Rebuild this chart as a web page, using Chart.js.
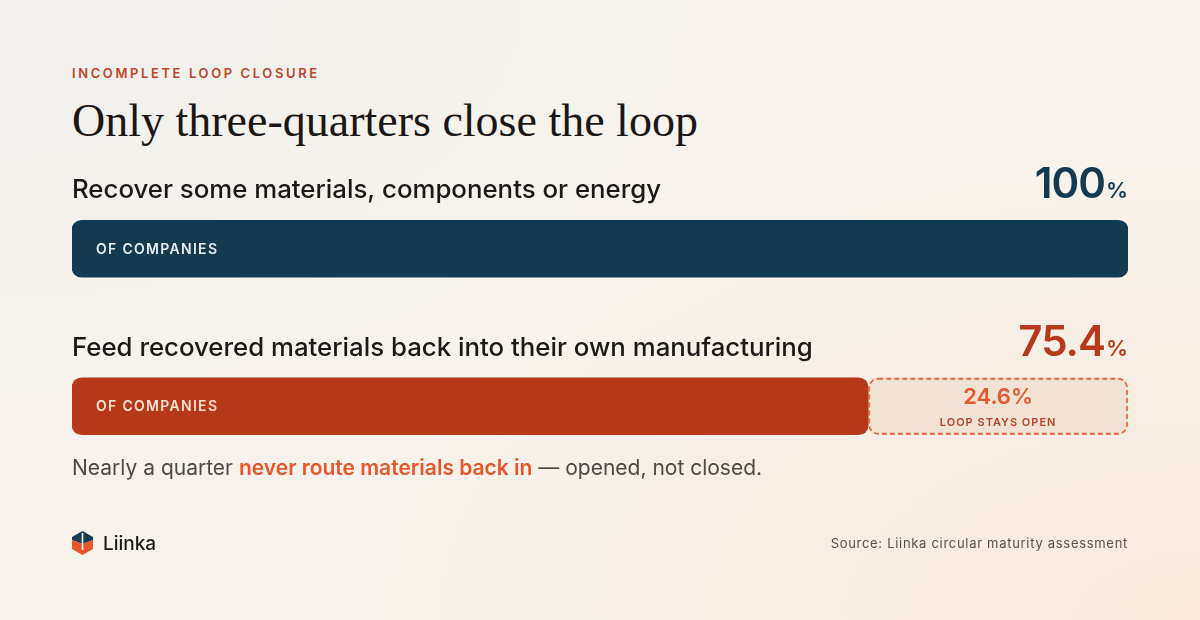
<!DOCTYPE html>
<html>
<head>
<meta charset="utf-8">
<title>Only three-quarters close the loop</title>
<script src="https://cdn.jsdelivr.net/npm/chart.js@4.4.1/dist/chart.umd.min.js"></script>
<style>
    html, body { margin: 0; padding: 0; }
    body {
        width: 1200px; height: 620px; overflow: hidden; position: relative;
        background: radial-gradient(ellipse 900px 500px at 1200px 620px, #f8e9dc 0%, rgba(248,233,220,0) 100%),
                    radial-gradient(ellipse 700px 400px at 0px 0px, #f1f0ed 0%, rgba(241,240,237,0) 100%),
                    #f7f3ec;
        font-family: Inter, "Noto Sans", sans-serif;
    }
    .eyebrow {
        position: absolute; left: 72px; top: 65px;
        font-size: 13px; font-weight: 600; letter-spacing: 2.6px; color: #c0452a;
    }
    .title {
        position: absolute; left: 72px; top: 94px;
        font-family: "Liberation Serif", "DejaVu Serif", serif;
        font-size: 46px; color: #1c1715; white-space: nowrap;
    }
    .note {
        position: absolute; left: 72px; top: 455px;
        font-size: 21px; color: #4e4945; white-space: nowrap;
    }
    .note b { color: #e8562b; font-weight: 600; }
    .brand {
        position: absolute; left: 72px; top: 531px; display: flex; align-items: center;
        font-size: 19px; font-weight: 500; color: #1d1a18;
    }
    .brand svg { margin-right: 10px; }
    .source {
        position: absolute; right: 72px; top: 535px;
        font-size: 13px; color: #57524e; letter-spacing: 0.7px;
    }
    #wrap { position: absolute; left: 0; top: 0; width: 1200px; height: 620px; }
</style>
</head>
<body>

<div class="eyebrow">INCOMPLETE LOOP CLOSURE</div>
<div class="title">Only three-quarters close the loop</div>

<div id="wrap"><canvas id="loopChart"></canvas></div>

<div class="note">Nearly a quarter <b>never route materials back in</b> — opened, not closed.</div>

<div class="brand">
    <svg width="21" height="24" viewBox="0 0 21 24">
        <polygon points="10.5,0 21,6 21,9 10.5,13 0,9 0,6" fill="#163b52"/>
        <polygon points="0,9 10.5,13 21,9 21,18 10.5,24 0,18" fill="#e8562b"/>
        <rect x="9.7" y="2" width="1.6" height="17" fill="#f7f3ec"/>
    </svg>
    Liinka
</div>
<div class="source">Source: Liinka circular maturity assessment</div>

<script>
// data
const categories = [
    "Recover some materials, components or energy",
    "Feed recovered materials back into their own manufacturing"
];
const closedShare = [100, 75.4];
const openShare = [0, 24.6];
const valueLabels = ["100", "75.4"];
const barNote = "OF COMPANIES";
const openNote = "LOOP STAYS OPEN";

const navy = "#133a51";
const rust = "#b8391a";
// object form so every bar in the stack keeps its rounded corners
const radius = { topLeft: 10, topRight: 10, bottomLeft: 10, bottomRight: 10 };

// text + dashed outline drawn on top of the bars
const loopLabels = {
    id: "loopLabels",
    afterDatasetsDraw(chart) {
        const ctx = chart.ctx;
        const closed = chart.getDatasetMeta(0).data;
        const open = chart.getDatasetMeta(1).data;
        const right = chart.chartArea.right;

        ctx.save();
        closed.forEach((bar, i) => {
            const top = bar.y - bar.height / 2;
            const left = bar.base;

            // row label
            ctx.font = "500 25.8px Inter";
            ctx.fillStyle = "#1c1a18";
            ctx.textAlign = "left";
            ctx.textBaseline = "alphabetic";
            ctx.fillText(categories[i], left, top - 22);

            // big value with small %
            ctx.fillStyle = i === 0 ? navy : rust;
            ctx.textAlign = "right";
            ctx.font = "600 22px Inter";
            const pctW = ctx.measureText("%").width;
            ctx.fillText("%", right, top - 22);
            ctx.font = "600 42px Inter";
            ctx.letterSpacing = "-1px";
            ctx.fillText(valueLabels[i], right - pctW - 1, top - 22);
            ctx.letterSpacing = "0px";

            // in-bar note
            ctx.font = "600 14px Inter";
            ctx.letterSpacing = "1.3px";
            ctx.textAlign = "left";
            ctx.textBaseline = "middle";
            ctx.fillStyle = i === 0 ? "#e6ecef" : "#f8e0d4";
            ctx.fillText(barNote, left + 24, bar.y + 1);
            ctx.letterSpacing = "0px";

            // open remainder
            const o = open[i];
            if (openShare[i] > 0) {
                const x0 = o.base + 1, x1 = o.x - 1;
                const y0 = o.y - o.height / 2 + 1, y1 = o.y + o.height / 2 - 1;
                ctx.beginPath();
                ctx.roundRect(x0, y0, x1 - x0, y1 - y0, 9);
                ctx.setLineDash([5, 3]);
                ctx.lineWidth = 1.8;
                ctx.strokeStyle = "#ec6a3f";
                ctx.stroke();
                ctx.setLineDash([]);

                const cx = (o.base + o.x) / 2;
                ctx.textAlign = "center";
                ctx.fillStyle = "#e8572b";
                ctx.font = "600 22px Inter";
                ctx.fillText(openShare[i] + "%", cx, o.y - 9);
                ctx.font = "600 11px Inter";
                ctx.letterSpacing = "1px";
                ctx.fillStyle = "#b5432a";
                ctx.fillText(openNote, cx, o.y + 16);
                ctx.letterSpacing = "0px";
            }
        });
        ctx.restore();
    }
};

new Chart(document.getElementById("loopChart"), {
    type: "bar",
    data: {
        labels: categories,
        datasets: [{
            label: "Close the loop",
            data: closedShare,
            backgroundColor: [navy, rust],
            borderRadius: radius,
            borderSkipped: false,
            barThickness: 57
        }, {
            label: "Loop stays open",
            data: openShare,
            backgroundColor: "#f1e2d3",
            borderRadius: radius,
            borderSkipped: false,
            barThickness: 57
        }]
    },
    options: {
        indexAxis: "y",
        responsive: true,
        maintainAspectRatio: false,
        animation: false,
        layout: { padding: { left: 72, right: 72, top: 170, bottom: 135 } },
        scales: {
            x: { stacked: true, min: 0, max: 100, display: false },
            y: { stacked: true, display: false }
        },
        plugins: {
            legend: { display: false },
            tooltip: { enabled: false }
        }
    },
    plugins: [loopLabels]
});
</script>
</body>
</html>
